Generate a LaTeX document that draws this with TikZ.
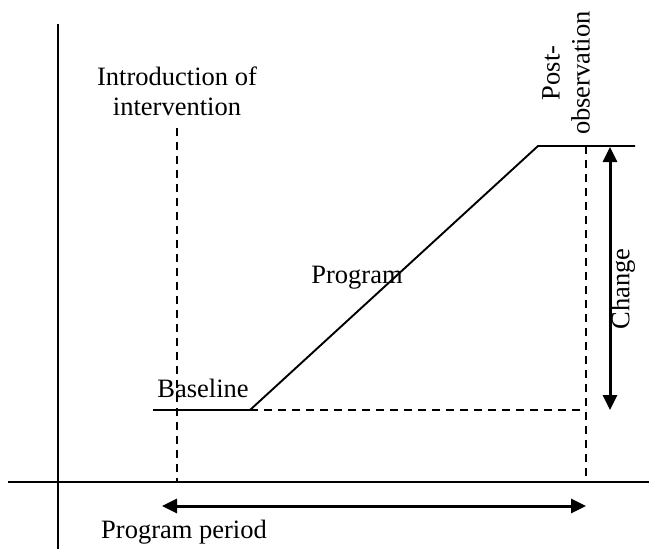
\documentclass[tikz,border=0pt]{standalone}
\usepackage{fontspec}
\setmainfont{Liberation Serif}
\usetikzlibrary{arrows.meta}
\begin{document}
\begin{tikzpicture}[x=1pt,y=-1pt,
  axis/.style={line width=2pt},
  curve/.style={line width=1.9pt},
  guide/.style={line width=1.7pt,dash pattern=on 8pt off 6pt},
  measure/.style={line width=3pt,{Triangle[length=15pt,width=14pt]}-{Triangle[length=15pt,width=14pt]}},
  lbl/.style={font=\fontsize{26.5}{30}\selectfont,inner sep=0pt,align=center}]
\useasboundingbox (0,0) rectangle (649,549);
% axes
\coordinate (yt) at (58,24);
\coordinate (yb) at (58,549);
\coordinate (xl) at (8,482);
\coordinate (xr) at (649,482);
\draw[axis] (yt) -- (yb);
\draw[axis] (xl) -- (xr);
% outcome path
\coordinate (b0) at (153,410);
\coordinate (b1) at (250,410);
\coordinate (p1) at (538,146);
\coordinate (p2) at (635,146);
\draw[curve] (b0) -- (b1) -- (p1) -- (p2);
% guides
\coordinate (it) at (177,128);
\coordinate (ib) at (177,482);
\coordinate (pt) at (586,146);
\coordinate (pb) at (586,482);
\coordinate (be) at (586,410);
\draw[guide] (it) -- (ib);
\draw[guide] (pt) -- (pb);
\draw[guide] (b1) -- (be);
% measures
\coordinate (ct) at (610,147);
\coordinate (cb) at (610,410);
\draw[measure] (ct) -- (cb);
\coordinate (pl) at (162,506);
\coordinate (pr) at (586,506);
\draw[measure] (pl) -- (pr);
% labels
\node[lbl,anchor=base] (intro) at (177,115) {Introduction of\\intervention};
\node[lbl,anchor=base] (prog) at (357,283) {Program};
\node[lbl,anchor=base] (base) at (203,397) {Baseline};
\node[lbl,rotate=90] (chg) at (623,289) {Change};
\node[lbl,rotate=90] (post) at (566,73) {Post-\\observation};
\node[lbl,anchor=base west] (period) at (101,538) {Program period};
\end{tikzpicture}
\end{document}
